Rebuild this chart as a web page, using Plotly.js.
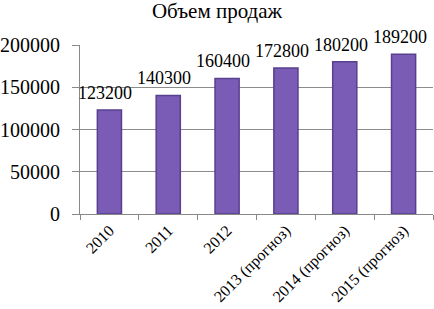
<!DOCTYPE html>
<html><head><meta charset="utf-8">
<script src="https://cdn.plot.ly/plotly-3.0.1.min.js"></script>
<style>html,body{margin:0;padding:0;background:#fff}#c{width:434px;height:309px}</style>
</head><body><div id="c"></div>
<script>
const categories = ["2010", "2011", "2012", "2013 (прогноз)", "2014 (прогноз)", "2015 (прогноз)"];
const sales = [123200, 140300, 160400, 172800, 180200, 189200];
const yTicks = [0, 50000, 100000, 150000, 200000];

const font = "Liberation Serif";
Plotly.newPlot("c", [{
  type: "bar",
  x: categories,
  y: sales,
  cliponaxis: false,
  marker: {color: "#7a5bb6", line: {color: "#58408f", width: 1.5}},
  hoverinfo: "none"
}], {
  width: 434, height: 309,
  font: {family: font, color: "#000"},
  margin: {l: 80, r: 1, t: 45, b: 95},
  paper_bgcolor: "#fff", plot_bgcolor: "#fff",
  bargap: 0.59,
  showlegend: false,
  title: {text: "Объем продаж", font: {family: font, size: 21, color: "#000"}, x: 0.5, xref: "container", xanchor: "center", y: 0.99, yref: "container", yanchor: "top"},
  annotations: categories.map((c, i) => ({
    x: i, y: sales[i], xref: "x", yref: "y",
    text: String(sales[i]), showarrow: false,
    xanchor: "center", yanchor: "middle", yshift: 17, xshift: -4,
    font: {family: font, size: 18, color: "#000"}
  })),
  xaxis: {
    type: "category",
    categoryorder: "array",
    categoryarray: categories,
    range: [-0.5, categories.length - 0.5],
    tickangle: -45,
    tickfont: {family: font, size: 16, color: "#000"},
    showline: true, linecolor: "#888", linewidth: 1,
    ticks: "outside", tickson: "boundaries", ticklen: 5, tickcolor: "#888",
    showgrid: false, fixedrange: true
  },
  yaxis: {
    range: [0, 200000],
    tickvals: yTicks,
    ticktext: yTicks.map(String),
    tickfont: {family: font, size: 20, color: "#000"},
    showline: true, linecolor: "#888", linewidth: 1,
    ticks: "outside", ticklen: 7, tickcolor: "#888",
    ticklabelstandoff: 8,
    showgrid: true, gridcolor: "#8c8c8c", gridwidth: 1,
    zeroline: false, fixedrange: true
  }
}, {displayModeBar: false, staticPlot: true});
</script></body></html>
